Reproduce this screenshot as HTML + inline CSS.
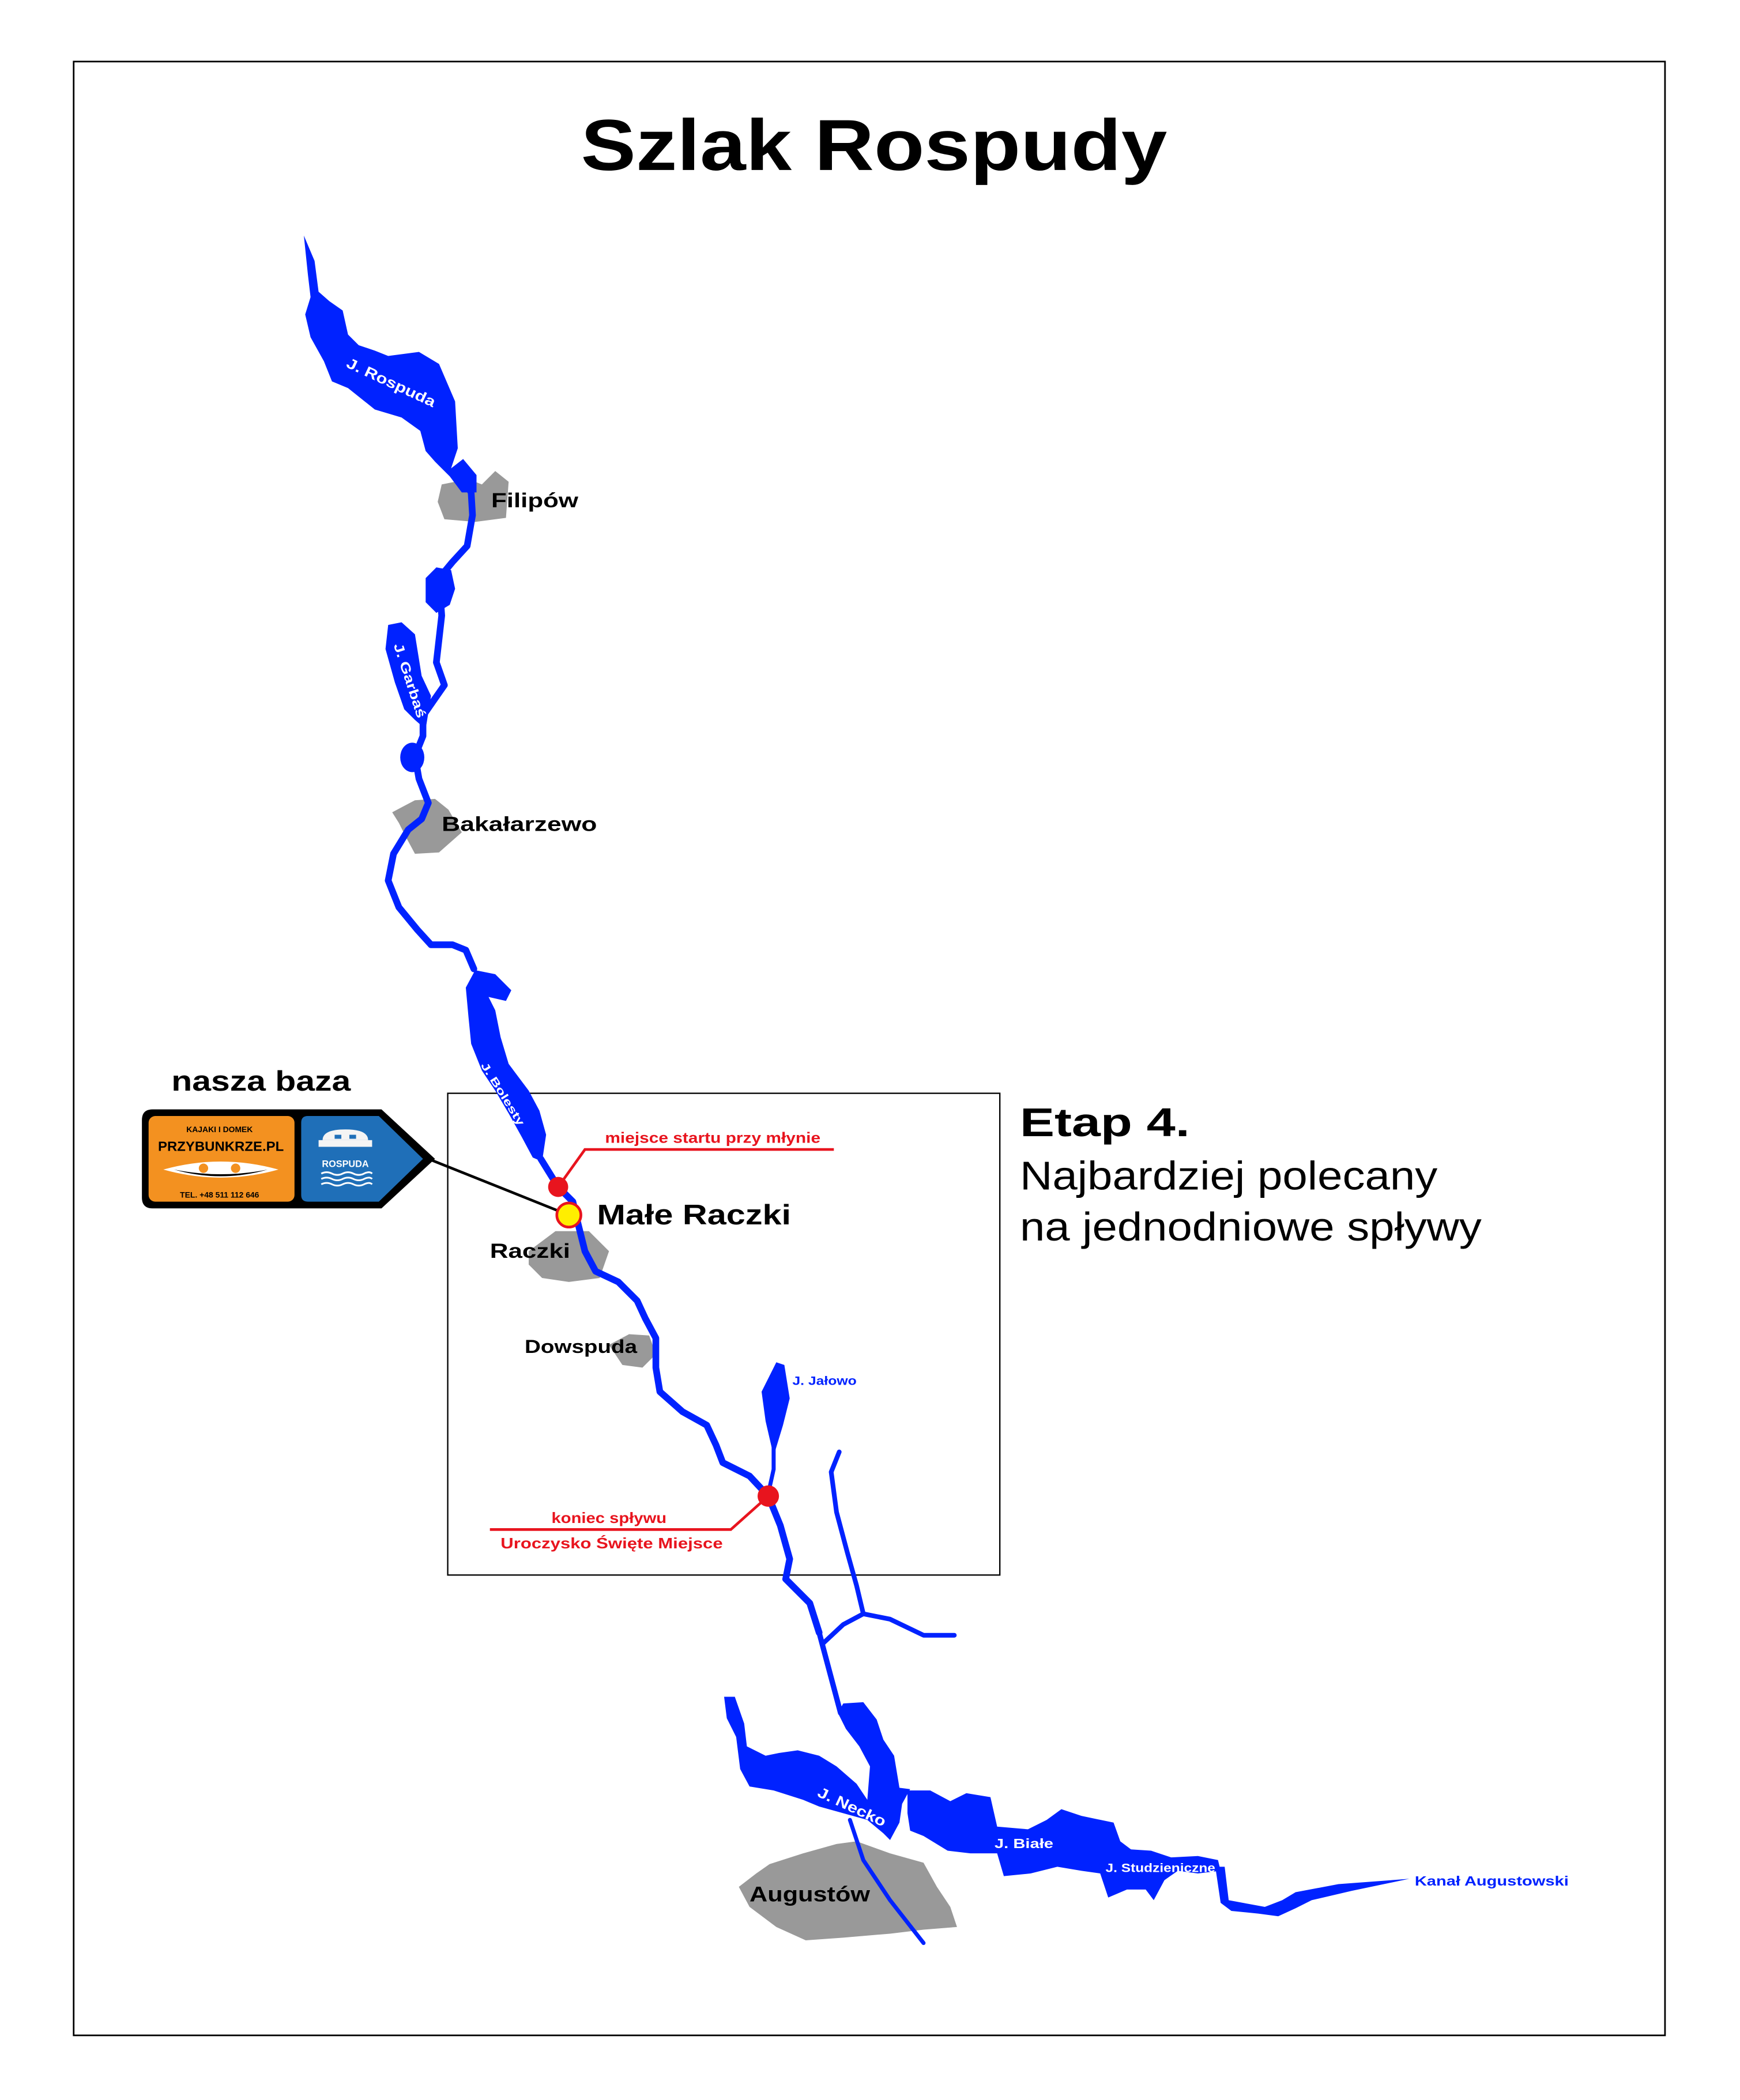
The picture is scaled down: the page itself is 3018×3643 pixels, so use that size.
<!DOCTYPE html>
<html><head><meta charset="utf-8"><style>html,body{margin:0;padding:0;background:#fff}svg{display:block}</style></head>
<body>
<svg width="3018" height="3643" viewBox="0 0 1300 1569.3" xmlns="http://www.w3.org/2000/svg" font-family="Liberation Sans, sans-serif">
<rect x="0" y="0" width="1300" height="1570" fill="#fff"/>
<rect x="55" y="46" width="1189" height="1475" fill="none" stroke="#000" stroke-width="1.2"/>
<text x="653" y="127" font-size="54" font-weight="bold" text-anchor="middle" textLength="438" lengthAdjust="spacingAndGlyphs">Szlak Rospudy</text>
<rect x="334.5" y="817" width="412.5" height="360" fill="none" stroke="#000" stroke-width="1"/>
<text x="762" y="849" font-size="30" font-weight="bold" textLength="127" lengthAdjust="spacingAndGlyphs">Etap 4.</text>
<text x="762" y="889" font-size="30" textLength="312" lengthAdjust="spacingAndGlyphs">Najbardziej polecany</text>
<text x="762" y="927" font-size="30" textLength="345" lengthAdjust="spacingAndGlyphs">na jednodniowe spływy</text>
<text x="128" y="815" font-size="21" font-weight="bold" textLength="134" lengthAdjust="spacingAndGlyphs">nasza baza</text>

<g fill="#999">
<polygon points="330,362 350,358 360,362 370,352 380,360 378,387 355,390 332,388 327,375"/>
<polygon points="293,607 310,598 325,597 335,605 345,622 328,637 310,638 303,625 298,615"/>
<polygon points="395,935 415,920 440,920 455,935 448,955 425,958 405,955 395,945"/>
<polygon points="455,1005 470,997 485,998 490,1012 480,1022 465,1020"/>
<polygon points="575,1393 600,1385 625,1378 640,1376 665,1385 690,1392 700,1410 710,1425 715,1440 690,1442 665,1445 630,1448 602,1450 580,1440 560,1425 552,1410 565,1400"/>
</g>

<g fill="none" stroke="#0022ff" stroke-width="5" stroke-linejoin="round" stroke-linecap="round">
<polyline points="342,352 352,368 353,385 349,408 338,420 328,432 330,460 326,495 332,512 325,522 316,535 316,550 310,565 313,582 320,600 315,612 305,620 294,638 290,658 298,678 312,695 322,706 338,706 348,710 354,724"/>
<polyline points="404,866 417,887 428,898 432,915 437,935 445,950 462,958 476,972 482,985 490,1000 490,1022 493,1040 510,1055 528,1065 535,1080 540,1093 560,1103 574,1118 583,1140 590,1165 587,1180 605,1198 612,1220" />
<polyline stroke-width="4" points="612,1220 620,1250 628,1280"/>
<polyline stroke-width="3" points="635,1360 645,1390 665,1420 690,1452"/>
<polyline stroke-width="3" points="578,1080 578,1098 574,1116"/>
<polyline stroke-width="3.5" points="627,1085 621,1100 625,1130 633,1160 640,1185 645,1206 630,1214 615,1228"/>
<polyline stroke-width="3.5" points="645,1206 665,1210 690,1222 713,1222"/>
</g>
<g fill="#0022ff">
<polygon points="227,176 235,195 238,218 246,225 256,232 260,250 268,258 280,262 290,266 313,263 328,272 340,300 342,335 337,350 346,343 356,355 356,368 345,368 336,356 325,345 318,337 314,322 300,312 280,306 260,290 248,285 242,270 232,252 228,235 232,222 230,205"/>
<polygon points="318,432 326,424 337,426 340,440 336,452 326,458 318,450"/>
<polygon points="290,467 300,465 310,474 315,505 322,520 318,545 310,538 302,530 295,510 288,485"/>
<ellipse cx="308" cy="566" rx="9" ry="11"/>
<polygon points="348,738 355,725 370,728 382,740 378,748 365,745 370,755 374,775 380,795 395,815 403,830 408,848 405,868 398,865 390,850 380,832 370,815 360,800 352,780 350,760"/>
<polygon points="580,1018 586,1020 590,1045 585,1065 578,1088 572,1062 569,1040"/>
<polygon points="541,1268 549,1268 556,1288 558,1305 572,1312 582,1310 596,1308 612,1312 625,1320 640,1333 648,1345 650,1320 642,1305 632,1292 626,1280 630,1273 645,1272 655,1285 660,1300 668,1312 672,1336 680,1337 674,1348 672,1362 665,1375 660,1370 648,1360 630,1355 612,1350 600,1345 578,1338 560,1335 553,1322 550,1298 543,1284"/>
<polygon points="678,1338 695,1338 710,1346 722,1340 740,1343 745,1365 768,1367 782,1360 793,1352 808,1357 832,1362 837,1376 845,1382 860,1383 875,1388 895,1387 910,1390 912,1398 895,1400 880,1398 870,1405 862,1420 856,1412 842,1412 828,1418 822,1400 808,1398 790,1395 770,1400 750,1402 745,1385 725,1385 708,1383 690,1372 680,1368 678,1355"/>
<polygon points="908,1395 915,1395 918,1420 945,1425 958,1420 968,1414 1000,1408 1053,1404 1010,1413 980,1420 968,1426 955,1432 940,1430 920,1428 912,1422"/>
</g>

<g fill="#fff" font-weight="bold">
<text x="258" y="274" font-size="11" transform="rotate(25 258 274)" textLength="72" lengthAdjust="spacingAndGlyphs">J. Rospuda</text>
<text x="294" y="482" font-size="10" transform="rotate(72 294 482)" textLength="58" lengthAdjust="spacingAndGlyphs">J. Garbaś</text>
<text x="296" y="644" font-size="8" transform="rotate(65 296 644)" textLength="56" lengthAdjust="spacingAndGlyphs">J. Sumowo</text>
<text x="359" y="796" font-size="8" transform="rotate(58 359 796)" textLength="54" lengthAdjust="spacingAndGlyphs">J. Bolesty</text>
<text x="610" y="1342" font-size="11" transform="rotate(25 610 1342)" textLength="55" lengthAdjust="spacingAndGlyphs">J. Necko</text>
<text x="743" y="1381" font-size="10" textLength="44" lengthAdjust="spacingAndGlyphs">J. Białe</text>
<text x="826" y="1399" font-size="9" textLength="82" lengthAdjust="spacingAndGlyphs">J. Studzieniczne</text>
</g>
<g fill="#0022ff" font-weight="bold">
<text x="592" y="1035" font-size="9" textLength="48" lengthAdjust="spacingAndGlyphs">J. Jałowo</text>
<text x="1057" y="1409" font-size="10" textLength="115" lengthAdjust="spacingAndGlyphs">Kanał Augustowski</text>
</g>

<g font-weight="bold" fill="#000">
<text x="367" y="379" font-size="15" textLength="65" lengthAdjust="spacingAndGlyphs">Filipów</text>
<text x="330" y="621" font-size="15" textLength="116" lengthAdjust="spacingAndGlyphs">Bakałarzewo</text>
<text x="366" y="940" font-size="15" textLength="60" lengthAdjust="spacingAndGlyphs">Raczki</text>
<text x="392" y="1011" font-size="14" textLength="84" lengthAdjust="spacingAndGlyphs">Dowspuda</text>
<text x="446" y="915" font-size="21" textLength="145" lengthAdjust="spacingAndGlyphs">Małe Raczki</text>
<text x="560" y="1421" font-size="16" textLength="90" lengthAdjust="spacingAndGlyphs">Augustów</text>
</g>

<g stroke="#e8141e" stroke-width="2" fill="none">
<polyline points="417,887 437,859 623,859"/>
<polyline points="574,1118 546,1143 366,1143"/>
</g>
<g fill="#e8141e" font-weight="bold" font-size="11">
<text x="452" y="854" textLength="161" lengthAdjust="spacingAndGlyphs">miejsce startu przy młynie</text>
<text x="412" y="1138" textLength="86" lengthAdjust="spacingAndGlyphs">koniec spływu</text>
<text x="374" y="1157" textLength="166" lengthAdjust="spacingAndGlyphs">Uroczysko Święte Miejsce</text>
</g>
<circle cx="417" cy="887" r="7.5" fill="#e8141e"/>
<circle cx="574" cy="1118" r="8" fill="#e8141e"/>

<line x1="320" y1="866" x2="425" y2="908" stroke="#000" stroke-width="2"/>
<circle cx="425" cy="908" r="9" fill="#ffee00" stroke="#e8141e" stroke-width="2"/>
<path d="M114,829 H285 L325,866 L285,903 H114 Q106,903 106,895 V837 Q106,829 114,829 Z" fill="#000"/>
<rect x="111" y="834" width="109" height="64" rx="5" fill="#f39120"/>
<path d="M230,834 H283 L316,866 L283,898 H230 Q225,898 225,893 V839 Q225,834 230,834 Z" fill="#1f6fb8"/>
<g font-weight="bold" fill="#000" text-anchor="middle">
<text x="164" y="846" font-size="6">KAJAKI I DOMEK</text>
<text x="165" y="860" font-size="10" textLength="94" lengthAdjust="spacingAndGlyphs">PRZYBUNKRZE.PL</text>
<text x="164" y="895" font-size="6">TEL. +48 511 112 646</text>
</g>
<path d="M122,874 Q165,862 208,874 Q165,886 122,874 Z" fill="#fff"/>
<path d="M130,874 Q165,881 200,874 Q165,884 130,874 Z" fill="#000"/>
<circle cx="152" cy="873" r="3.5" fill="#f39120"/><circle cx="176" cy="873" r="3.5" fill="#f39120"/>
<path d="M241,852 Q241,844 258,844 Q275,844 275,852 Z" fill="#f4f4f4"/>
<rect x="238" y="852" width="40" height="5" fill="#f4f4f4"/>
<rect x="250" y="848" width="5" height="3" fill="#1f6fb8"/><rect x="261" y="848" width="5" height="3" fill="#1f6fb8"/>
<text x="258" y="872" font-size="7" font-weight="bold" fill="#fff" text-anchor="middle">ROSPUDA</text>
<g stroke="#fff" stroke-width="1.3" fill="none">
<path d="M240,877 q4,-2 8,0 t8,0 t8,0 t8,0 t6,0"/>
<path d="M240,881 q4,-2 8,0 t8,0 t8,0 t8,0 t6,0"/>
<path d="M240,885 q4,-2 8,0 t8,0 t8,0 t8,0 t6,0"/>
</g>
</svg>
</body></html>
